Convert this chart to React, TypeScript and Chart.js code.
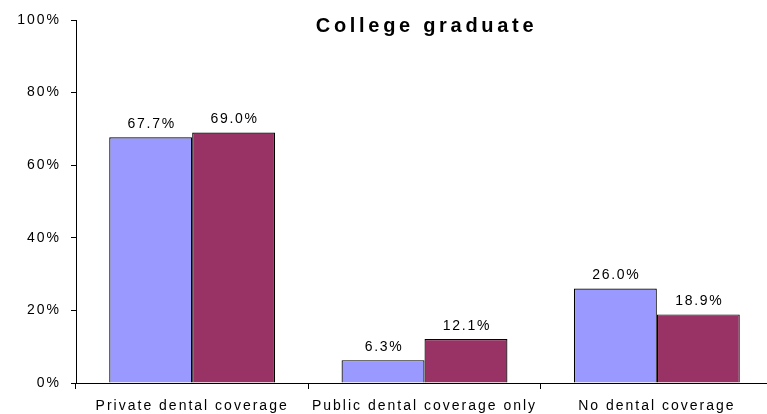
import React, { useEffect, useRef } from "react";
import { Chart, registerables } from "chart.js";

Chart.register(...registerables);

const categories = ["Private dental coverage", "Public dental coverage only", "No dental coverage"];
const seriesA = [67.7, 6.3, 26.0];
const seriesB = [69.0, 12.1, 18.9];
const seriesNames = ["Series 1", "Series 2"];
const yMax = 100;
const yStep = 20;
const chartTitle = "College graduate";

const FONT = "'Liberation Sans', Arial, sans-serif";
const SPACING = "2px";

const spacingPlugin = {
  id: "spacing",
  beforeInit(chart: any) {
    chart.ctx.letterSpacing = SPACING;
  },
  beforeUpdate(chart: any) {
    chart.ctx.letterSpacing = SPACING;
  },
  beforeDraw(chart: any) {
    chart.ctx.letterSpacing = SPACING;
  },
};

const labelPlugin = {
  id: "labels",
  afterDatasetsDraw(chart: any) {
    const ctx = chart.ctx;
    ctx.save();
    ctx.letterSpacing = "1.7px";
    ctx.font = `14px ${FONT}`;
    ctx.fillStyle = "#000";
    ctx.textAlign = "center";
    ctx.textBaseline = "alphabetic";
    chart.data.datasets.forEach((ds: any, i: number) => {
      const meta = chart.getDatasetMeta(i);
      meta.data.forEach((bar: any, j: number) => {
        ctx.fillText(Number(ds.data[j]).toFixed(1) + "%", bar.x + 1, bar.y - 9.5);
      });
    });
    ctx.restore();
  },
  afterDraw(chart: any) {
    const ctx = chart.ctx;
    const area = chart.chartArea;
    ctx.save();
    ctx.letterSpacing = "3.7px";
    ctx.font = `bold 20px ${FONT}`;
    ctx.fillStyle = "#000";
    ctx.textAlign = "center";
    ctx.textBaseline = "middle";
    ctx.fillText(chartTitle, (area.left + area.right) / 2 + 2, 26);
    ctx.restore();
  },
};

export default function App() {
  const ref = useRef<HTMLCanvasElement>(null);
  useEffect(() => {
    if (!ref.current) return;
    const chart = new Chart(ref.current, {
      type: "bar",
      data: {
        labels: categories,
        datasets: [
          {
            label: seriesNames[0],
            data: seriesA,
            backgroundColor: "#9999FF",
            borderColor: "#000000",
            borderWidth: 1.2,
            categoryPercentage: 0.714,
            barPercentage: 1,
          },
          {
            label: seriesNames[1],
            data: seriesB,
            backgroundColor: "#993366",
            borderColor: "#000000",
            borderWidth: 1.2,
            categoryPercentage: 0.714,
            barPercentage: 1,
          },
        ],
      },
      options: {
        responsive: false,
        animation: false,
        devicePixelRatio: 1,
        layout: { padding: { top: 20, right: 0, left: 0, bottom: 0 } },
        plugins: {
          legend: { display: false },
          tooltip: { enabled: false },
          title: { display: false },
        },
        scales: {
          x: {
            grid: {
              display: true,
              offset: true,
              drawOnChartArea: false,
              drawTicks: true,
              tickLength: 6,
              color: "#000",
            },
            border: { display: true, color: "#000", width: 1 },
            ticks: {
              color: "#000",
              font: { size: 14, family: FONT },
              padding: 9,
              maxRotation: 0,
              autoSkip: false,
            },
            afterFit(scale: any) {
              scale.height = 31;
            },
          },
          y: {
            min: 0,
            max: yMax,
            grid: {
              display: true,
              drawOnChartArea: false,
              drawTicks: true,
              tickLength: 5,
              color: "#000",
            },
            border: { display: true, color: "#000", width: 1 },
            ticks: {
              stepSize: yStep,
              color: "#000",
              font: { size: 14, family: FONT },
              padding: 10,
              callback: (v: any) => v + "%",
            },
            afterFit(scale: any) {
              scale.width = 76;
            },
          },
        },
      },
      plugins: [spacingPlugin, labelPlugin],
    } as any);
    return () => chart.destroy();
  }, []);
  return (
    <div
      style={{
        position: "fixed",
        left: 0,
        top: 0,
        width: 767,
        height: 414,
        overflow: "hidden",
        background: "#fff",
      }}
    >
      <canvas ref={ref} width={773} height={414} style={{ display: "block" }} />
    </div>
  );
}
